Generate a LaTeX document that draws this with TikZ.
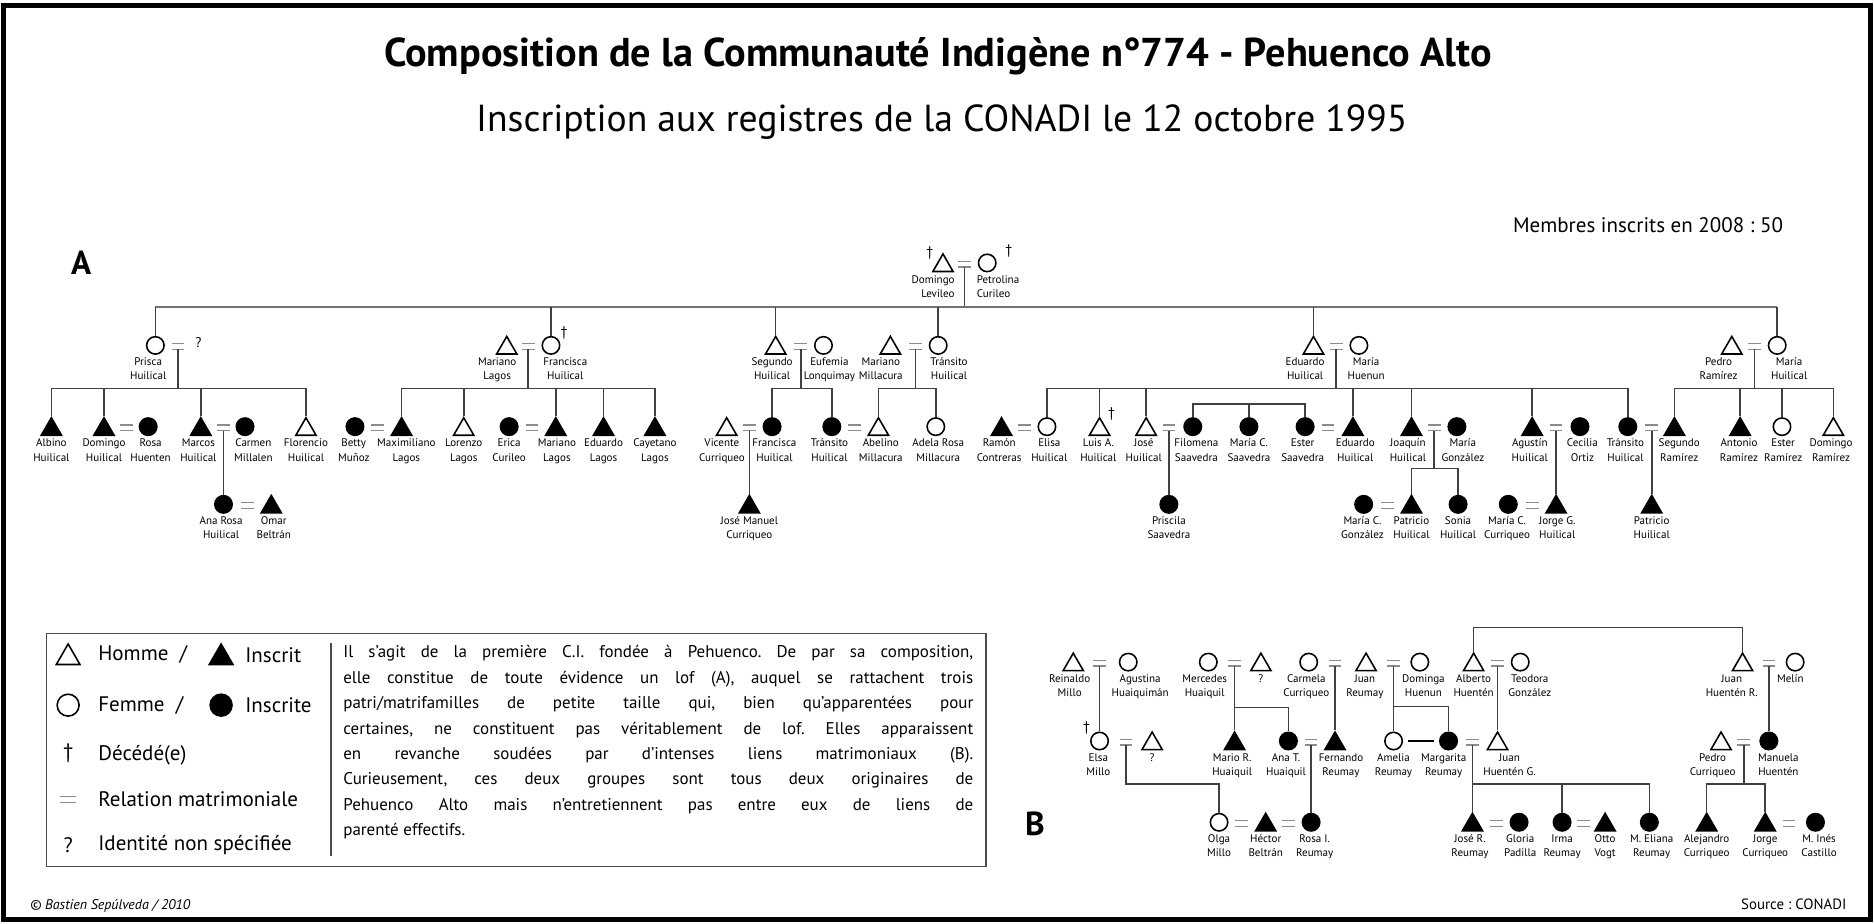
\documentclass[tikz,border=0pt]{standalone}
\usepackage{fontspec}
\setmainfont{PT Sans}
\usetikzlibrary{shapes.geometric}
\frenchspacing

\begin{document}
\begin{tikzpicture}[x=0.24mm, y=-0.24mm,
    man/.style={regular polygon, regular polygon sides=3, draw, line width=0.9pt, minimum size=4.7mm, inner sep=0pt, yshift=-0.55mm},
    woman/.style={circle, draw, line width=0.9pt, minimum size=3.5mm, inner sep=0pt},
    ins/.style={fill=black},
    nm/.style={anchor=north, align=center, inner sep=0pt, font=\fontsize{6.3}{8.2}\selectfont},
    wedline/.style={draw=black!45, line width=0.75pt},
    wed/.style={inner sep=0pt, minimum width=2.4mm, minimum height=1mm,
        append after command={(\tikzlastnode.north west) edge[wedline] (\tikzlastnode.north east)
                              (\tikzlastnode.south west) edge[wedline] (\tikzlastnode.south east)}},
    link/.style={draw=black!75, line width=0.9pt},
    trunk/.style={draw=black!55, line width=1.5pt},
    dag/.style={inner sep=0pt, font=\fontsize{8}{8}\selectfont},
    lg/.style={inner sep=0pt, font=\fontsize{12}{14.5}\selectfont}]

    % 画布与外框
    \useasboundingbox (0,0) rectangle (1568,773);
    \draw[line width=1mm] (3,5) rectangle (1565,769);

    % === 标题 ===
    \node[font=\bfseries\fontsize{23}{26}\selectfont] (titre) at (785,47) {Composition de la Communauté Indigène n°774 - Pehuenco Alto};
    \node[font=\fontsize{21.5}{26}\selectfont] (stitre) at (788,102) {Inscription aux registres de la CONADI le 12 octobre 1995};
    \node[anchor=east, font=\fontsize{12}{13}\selectfont] (membres) at (1497,188) {Membres inscrits en 2008 : 50};
    \node[font=\bfseries\fontsize{19}{20}\selectfont] (labA) at (68,220) {A};

    % === A：始祖夫妇 ===
    \node[man] (dom) at (789,220) {};
    \node[wed] (w0) at (807,221) {};
    \node[woman] (pet) at (826,220) {};
    \node[dag] (domd) at (778,212) {†};
    \node[dag] (petd) at (844,210) {†};
    \node[nm, anchor=north east, align=right] (domn) at (799,230) {Domingo\\Levileo};
    \node[nm, anchor=north west, align=left] (petn) at (817,230) {Petrolina\\Curileo};

    % === 第一代 ===
    \node[woman] (prisc) at (130,289) {};
    \node[wed] (w1) at (149,290) {};
    \node[dag] (w1x) at (166,287) {?};
    \node[nm] (priscn) at (124,299) {Prisca\\Huilical};

    \node[man] (mlag) at (424,289) {};
    \node[wed] (w2) at (442,290) {};
    \node[woman] (fhu) at (461,289) {};
    \node[dag] (fhud) at (472,279) {†};
    \node[nm] (mlagn) at (416,299) {Mariano\\Lagos};
    \node[nm] (fhun) at (473,299) {Francisca\\Huilical};

    \node[man] (shu) at (649,289) {};
    \node[wed] (w3) at (670,290) {};
    \node[woman] (euf) at (689,289) {};
    \node[nm] (shun) at (646,299) {Segundo\\Huilical};
    \node[nm] (eufn) at (694,299) {Eufemia\\Lonquimay};

    \node[man] (mmi) at (745,289) {};
    \node[wed] (w4) at (766,290) {};
    \node[woman] (thu) at (785,289) {};
    \node[nm] (mmin) at (737,299) {Mariano\\Millacura};
    \node[nm] (thun) at (794,299) {Tránsito\\Huilical};

    \node[man] (ehu) at (1099,289) {};
    \node[wed] (w5) at (1118,290) {};
    \node[woman] (mhn) at (1137,289) {};
    \node[nm] (ehun) at (1092,299) {Eduardo\\Huilical};
    \node[nm] (mhnn) at (1143,299) {María\\Huenun};

    \node[man] (pra) at (1449,289) {};
    \node[wed] (w6) at (1468,290) {};
    \node[woman] (mhr) at (1487,289) {};
    \node[nm] (pran) at (1438,299) {Pedro\\Ramírez};
    \node[nm] (mhrn) at (1497,299) {María\\Huilical};

    % 主干横线与下垂线
    \draw[link] (w0.south) -- (w0.south |- 0,257);
    \draw[trunk] (prisc.north |- 0,257) -- (mhr.north |- 0,257);
    \draw[link] (prisc.north) -- (prisc.north |- 0,257) (fhu.north) -- (fhu.north |- 0,257)
        (shu.north) -- (shu.north |- 0,257) (thu.north) -- (thu.north |- 0,257)
        (ehu.north) -- (ehu.north |- 0,257) (mhr.north) -- (mhr.north |- 0,257);

    % === 第二代 ===
    % Prisca 一支
    \node[man, ins] (alb) at (43,357) {};
    \node[nm] (albn) at (43,367) {Albino\\Huilical};
    \node[man, ins] (dhu) at (87,357) {};
    \node[wed] (w7) at (106,358) {};
    \node[woman, ins] (rhu) at (124,357) {};
    \node[nm] (dhun) at (87,367) {Domingo\\Huilical};
    \node[nm] (rhun) at (126,367) {Rosa\\Huenten};
    \node[man, ins] (mar) at (168,357) {};
    \node[wed] (w8) at (187,358) {};
    \node[woman, ins] (cmi) at (205,357) {};
    \node[nm] (marn) at (166,367) {Marcos\\Huilical};
    \node[nm] (cmin) at (212,367) {Carmen\\Millalen};
    \node[man] (flo) at (256,357) {};
    \node[nm] (flon) at (256,367) {Florencio\\Huilical};
    \draw[link] (w1.south) -- (w1.south |- 0,325);
    \draw[link] (alb.north) |- (flo.north |- 0,325) -- (flo.north);
    \draw[link] (dhu.north) -- (dhu.north |- 0,325) (mar.north) -- (mar.north |- 0,325);

    % Francisca 一支
    \node[woman, ins] (bmu) at (297,357) {};
    \node[wed] (w9) at (316,358) {};
    \node[man, ins] (mxl) at (336,357) {};
    \node[nm] (bmun) at (296,367) {Betty\\Muñoz};
    \node[nm] (mxln) at (340,367) {Maximiliano\\Lagos};
    \node[man] (lol) at (388,357) {};
    \node[nm] (loln) at (388,367) {Lorenzo\\Lagos};
    \node[woman, ins] (ecu) at (426,357) {};
    \node[wed] (w10) at (445,358) {};
    \node[man, ins] (mla2) at (465,357) {};
    \node[nm] (ecun) at (426,367) {Erica\\Curileo};
    \node[nm] (mla2n) at (466,367) {Mariano\\Lagos};
    \node[man, ins] (edl) at (505,357) {};
    \node[nm] (edln) at (505,367) {Eduardo\\Lagos};
    \node[man, ins] (cal) at (548,357) {};
    \node[nm] (caln) at (548,367) {Cayetano\\Lagos};
    \draw[link] (w2.south) -- (w2.south |- 0,325);
    \draw[link] (mxl.north) |- (cal.north |- 0,325) -- (cal.north);
    \draw[link] (lol.north) -- (lol.north |- 0,325) (mla2.north) -- (mla2.north |- 0,325)
        (edl.north) -- (edl.north |- 0,325);

    % Segundo 与 Mariano 两支
    \node[man] (vcu) at (608,357) {};
    \node[wed] (w11) at (627,358) {};
    \node[woman, ins] (fhu2) at (646,357) {};
    \node[nm] (vcun) at (604,367) {Vicente\\Curriqueo};
    \node[nm] (fhu2n) at (648,367) {Francisca\\Huilical};
    \node[woman, ins] (thu2) at (696,357) {};
    \node[wed] (w12) at (715,358) {};
    \node[man] (abm) at (735,357) {};
    \node[nm] (thu2n) at (694,367) {Tránsito\\Huilical};
    \node[nm] (abmn) at (737,367) {Abelino\\Millacura};
    \node[woman] (arm) at (783,357) {};
    \node[nm] (armn) at (785,367) {Adela Rosa\\Millacura};
    \draw[link] (w3.south) -- (w3.south |- 0,325);
    \draw[link] (fhu2.north) |- (thu2.north |- 0,325) -- (thu2.north);
    \draw[link] (w4.south) -- (w4.south |- 0,325);
    \draw[link] (abm.north) |- (arm.north |- 0,325) -- (arm.north);

    % Eduardo 一支
    \node[man, ins] (rco) at (838,357) {};
    \node[wed] (w13) at (857,358) {};
    \node[woman] (ehu2) at (876,357) {};
    \node[nm] (rcon) at (836,367) {Ramón\\Contreras};
    \node[nm] (ehu2n) at (878,367) {Elisa\\Huilical};
    \node[man] (lah) at (920,357) {};
    \node[dag] (lahd) at (930,346) {†};
    \node[nm] (lahn) at (919,367) {Luis A.\\Huilical};
    \node[man] (jhu) at (959,357) {};
    \node[wed] (w14) at (978,358) {};
    \node[woman, ins] (fsa) at (998,357) {};
    \node[nm] (jhun) at (957,367) {José\\Huilical};
    \node[nm] (fsan) at (1001,367) {Filomena\\Saavedra};
    \node[woman, ins] (mcs) at (1045,357) {};
    \node[nm] (mcsn) at (1045,367) {María C.\\Saavedra};
    \node[woman, ins] (esa) at (1092,357) {};
    \node[wed] (w15) at (1111,358) {};
    \node[man, ins] (edh) at (1132,357) {};
    \node[nm] (esan) at (1090,367) {Ester\\Saavedra};
    \node[nm] (edhn) at (1134,367) {Eduardo\\Huilical};
    \node[man, ins] (jqh) at (1181,357) {};
    \node[wed] (w16) at (1200,358) {};
    \node[woman, ins] (mgo) at (1219,357) {};
    \node[nm] (jqhn) at (1178,367) {Joaquín\\Huilical};
    \node[nm] (mgon) at (1224,367) {María\\González};
    \node[man, ins] (agh) at (1282,357) {};
    \node[wed] (w17) at (1302,358) {};
    \node[woman, ins] (cor) at (1322,357) {};
    \node[nm] (aghn) at (1280,367) {Agustín\\Huilical};
    \node[nm] (corn) at (1324,367) {Cecilia\\Ortiz};
    \node[woman, ins] (thu3) at (1362,357) {};
    \node[wed] (w18) at (1382,358) {};
    \node[man, ins] (sra) at (1401,357) {};
    \node[nm] (thu3n) at (1360,367) {Tránsito\\Huilical};
    \node[nm] (sran) at (1405,367) {Segundo\\Ramírez};
    \draw[link] (w5.south) -- (w5.south |- 0,325);
    \draw[link] (ehu2.north) |- (thu3.north |- 0,325) -- (thu3.north);
    \draw[link] (lah.north) -- (lah.north |- 0,325) (jhu.north) -- (jhu.north |- 0,325)
        (edh.north) -- (edh.north |- 0,325) (jqh.north) -- (jqh.north |- 0,325)
        (agh.north) -- (agh.north |- 0,325);
    % Saavedra 三姐妹
    \draw[link] (fsa.north) |- (esa.north |- 0,338) -- (esa.north);
    \draw[link] (mcs.north) -- (mcs.north |- 0,338);

    % Pedro 一支
    \node[man, ins] (ara) at (1456,357) {};
    \node[nm] (aran) at (1455,367) {Antonio\\Ramírez};
    \node[woman] (era) at (1491,357) {};
    \node[nm] (eran) at (1492,367) {Ester\\Ramírez};
    \node[man] (dra) at (1534,357) {};
    \node[nm] (dran) at (1532,367) {Domingo\\Ramírez};
    \draw[link] (w6.south) -- (w6.south |- 0,325);
    \draw[link] (sra.north) |- (dra.north |- 0,325) -- (dra.north);
    \draw[link] (ara.north) -- (ara.north |- 0,325) (era.north) -- (era.north |- 0,325);

    % === 第三代 ===
    \node[woman, ins] (arh) at (187,422) {};
    \node[wed] (w19) at (207,423) {};
    \node[man, ins] (obe) at (227,422) {};
    \node[nm] (arhn) at (185,432) {Ana Rosa\\Huilical};
    \node[nm] (oben) at (229,432) {Omar\\Beltrán};
    \draw[link] (w8.south) -- (arh.north);

    \node[man, ins] (jmc) at (627,422) {};
    \node[nm] (jmcn) at (627,432) {José Manuel\\Curriqueo};
    \draw[link] (w11.south) -- (jmc.north);

    \node[woman, ins] (psa) at (978,422) {};
    \node[nm] (psan) at (978,432) {Priscila\\Saavedra};
    \draw[link] (w14.south) -- (psa.north);

    \node[woman, ins] (mcg) at (1141,422) {};
    \node[wed] (w20) at (1161,423) {};
    \node[man, ins] (pah) at (1181,422) {};
    \node[woman, ins] (soh) at (1220,422) {};
    \node[nm] (mcgn) at (1140,432) {María C.\\González};
    \node[nm] (pahn) at (1181,432) {Patricio\\Huilical};
    \node[nm] (sohn) at (1220,432) {Sonia\\Huilical};
    \draw[link] (w16.south) -- (w16.south |- 0,392);
    \draw[link] (pah.north) |- (soh.north |- 0,392) -- (soh.north);

    \node[woman, ins] (mcc) at (1262,422) {};
    \node[wed] (w21) at (1282,423) {};
    \node[man, ins] (jgh) at (1302,422) {};
    \node[nm] (mccn) at (1261,432) {María C.\\Curriqueo};
    \node[nm] (jghn) at (1303,432) {Jorge G.\\Huilical};
    \draw[link] (w17.south) -- (jgh.north);

    \node[man, ins] (pah2) at (1382,422) {};
    \node[nm] (pah2n) at (1382,432) {Patricio\\Huilical};
    \draw[link] (w18.south) -- (pah2.north);

    % === 图例 ===
    \draw[line width=0.8pt, draw=black!70] (39,530) rectangle (825,725);
    \draw[line width=0.8pt, draw=black!70] (277,538) -- (277,716);
    \node[man, minimum size=5.5mm] (lgh) at (57,548) {};
    \node[lg, anchor=west] (lgt1) at (82,548) {Homme \ /};
    \node[man, ins, minimum size=5.5mm] (lgi) at (185,548) {};
    \node[lg, anchor=west] (lgt2) at (205,548) {Inscrit};
    \node[woman, minimum size=4.4mm] (lgf) at (57,590) {};
    \node[lg, anchor=west] (lgt3) at (82,590) {Femme \ /};
    \node[woman, ins, minimum size=4.4mm] (lgfi) at (185,590) {};
    \node[lg, anchor=west] (lgt4) at (205,590) {Inscrite};
    \node[lg] (lgd) at (57,630) {†};
    \node[lg, anchor=west] (lgt5) at (82,632) {Décédé(e)};
    \node[wed, minimum width=3mm] (lgw) at (57,669) {};
    \node[lg, anchor=west] (lgt6) at (82,669) {Relation matrimoniale};
    \node[lg] (lgq) at (57,707) {?};
    \node[lg, anchor=west] (lgt7) at (82,707) {Identité non spécifiée};
    \node[lg, anchor=north west, text width=126.5mm, align=justify, font=\fontsize{9.7}{14.5}\selectfont] (texte) at (287,540) {Il s'agit de la première C.I. fondée à Pehuenco. De par sa composition,\linebreak
        elle constitue de toute évidence un lof (A), auquel se rattachent trois\linebreak
        patri/matrifamilles de petite taille qui, bien qu'apparentées pour\linebreak
        certaines, ne constituent pas véritablement de lof. Elles apparaissent\linebreak
        en revanche soudées par d'intenses liens matrimoniaux (B).\linebreak
        Curieusement, ces deux groupes sont tous deux originaires de\linebreak
        Pehuenco Alto mais n'entretiennent pas entre eux de liens de\linebreak
        parenté effectifs.};

    % === B：联姻群 ===
    \node[font=\bfseries\fontsize{19}{20}\selectfont] (labB) at (866,689) {B};

    % 第一行
    \node[man] (rmi) at (898,554) {};
    \node[wed] (w22) at (920,555) {};
    \node[woman] (ahu) at (944,554) {};
    \node[nm] (rmin) at (895,564) {Reinaldo\\Millo};
    \node[nm] (ahun) at (954,564) {Agustina\\Huaiquimán};
    \node[woman] (mhq) at (1011,554) {};
    \node[wed] (w23) at (1033,555) {};
    \node[man] (unk1) at (1055,554) {};
    \node[nm] (mhqn) at (1008,564) {Mercedes\\Huaiquil};
    \node[nm] (unk1n) at (1055,564) {?};
    \node[woman] (ccu) at (1095,554) {};
    \node[wed] (w24) at (1117,555) {};
    \node[man] (jre) at (1143,554) {};
    \node[wed] (w25) at (1166,555) {};
    \node[woman] (dhn) at (1188,554) {};
    \node[nm] (ccun) at (1093,564) {Carmela\\Curriqueo};
    \node[nm] (jren) at (1142,564) {Juan\\Reumay};
    \node[nm] (dhnn) at (1191,564) {Dominga\\Huenun};
    \node[man] (ahn) at (1233,554) {};
    \node[wed] (w26) at (1253,555) {};
    \node[woman] (tgo) at (1272,554) {};
    \node[nm] (ahnn) at (1233,564) {Alberto\\Huentén};
    \node[nm] (tgon) at (1280,564) {Teodora\\González};
    \node[man] (jhr) at (1458,554) {};
    \node[wed] (w27) at (1480,555) {};
    \node[woman] (mel) at (1502,554) {};
    \node[nm] (jhrn) at (1449,564) {Juan\\Huentén R.};
    \node[nm] (meln) at (1498,564) {Melín};
    \draw[link] (ahn.north) |- (jhr.north |- 0,525) -- (jhr.north);

    % 第二行
    \node[woman] (emi) at (920,620) {};
    \node[dag] (emid) at (909,609) {†};
    \node[wed] (w28) at (942,621) {};
    \node[man] (unk2) at (964,620) {};
    \node[nm] (emin) at (919,630) {Elsa\\Millo};
    \node[nm] (unk2n) at (964,630) {?};
    \node[man, ins] (mrh) at (1033,620) {};
    \node[woman, ins] (ath) at (1078,620) {};
    \node[wed] (w29) at (1097,621) {};
    \node[man, ins] (fre) at (1117,620) {};
    \node[nm] (mrhn) at (1031,630) {Mario R.\\Huaiquil};
    \node[nm] (athn) at (1076,630) {Ana T.\\Huaiquil};
    \node[nm] (fren) at (1122,630) {Fernando\\Reumay};
    \node[woman] (are) at (1166,620) {};
    \node[woman, ins] (mre) at (1212,620) {};
    \node[wed] (w30) at (1232,621) {};
    \node[man] (jhg) at (1253,620) {};
    \node[nm] (aren) at (1166,630) {Amelia\\Reumay};
    \node[nm] (mren) at (1208,630) {Margarita\\Reumay};
    \node[nm] (jhgn) at (1263,630) {Juan\\Huentén G.};
    \node[man] (pcu) at (1440,620) {};
    \node[wed] (w31) at (1459,621) {};
    \node[woman, ins] (mhe) at (1480,620) {};
    \node[nm] (pcun) at (1433,630) {Pedro\\Curriqueo};
    \node[nm] (mhen) at (1488,630) {Manuela\\Huentén};
    \draw[link] (w22.south) -- (emi.north);
    \draw[link] (w23.south) -- (mrh.north);
    \draw[link] (w23.south |- 0,592) -| (ath.north);
    \draw[link] (w24.south) -- (fre.north);
    \draw[link] (w25.south) -- (are.north);
    \draw[link] (w25.south |- 0,591) -| (mre.north);
    \draw[draw=black, line width=1pt] ([xshift=1mm]are.east) -- ([xshift=-1mm]mre.west);
    \draw[link] (w26.south) -- (jhg.north);
    \draw[link] (w27.south) -- (mhe.north);

    % 第三行
    \node[woman] (omi) at (1020,688) {};
    \node[wed] (w32) at (1039,689) {};
    \node[man, ins] (hbe) at (1059,688) {};
    \node[wed] (w33) at (1078,689) {};
    \node[woman, ins] (rre) at (1097,688) {};
    \node[nm] (omin) at (1020,698) {Olga\\Millo};
    \node[nm] (hben) at (1059,698) {Héctor\\Beltrán};
    \node[nm] (rren) at (1100,698) {Rosa I.\\Reumay};
    \node[man, ins] (jrr) at (1232,688) {};
    \node[wed] (w34) at (1252,689) {};
    \node[woman, ins] (gpa) at (1271,688) {};
    \node[woman, ins] (ire) at (1307,688) {};
    \node[wed] (w35) at (1325,689) {};
    \node[man, ins] (ovo) at (1343,688) {};
    \node[woman, ins] (mer) at (1380,688) {};
    \node[nm] (jrrn) at (1230,698) {José R.\\Reumay};
    \node[nm] (gpan) at (1272,698) {Gloria\\Padilla};
    \node[nm] (iren) at (1307,698) {Irma\\Reumay};
    \node[nm] (ovon) at (1343,698) {Otto\\Vogt};
    \node[nm] (mern) at (1382,698) {M. Eliana\\Reumay};
    \node[man, ins] (acu) at (1428,688) {};
    \node[man, ins] (jcu) at (1477,688) {};
    \node[wed] (w36) at (1497,689) {};
    \node[woman, ins] (mic) at (1519,688) {};
    \node[nm] (acun) at (1428,698) {Alejandro\\Curriqueo};
    \node[nm] (jcun) at (1477,698) {Jorge\\Curriqueo};
    \node[nm] (micn) at (1522,698) {M. Inés\\Castillo};
    \draw[link] (w28.south) |- (omi.north |- 0,656) -- (omi.north);
    \draw[link] (w29.south) -- (rre.north);
    \draw[link] (w30.south) -- (jrr.north);
    \draw[link] (w30.south |- 0,656) -| (mer.north);
    \draw[link] (ire.north) -- (ire.north |- 0,656);
    \draw[link] (w31.south) -- (w31.south |- 0,656);
    \draw[link] (acu.north) |- (jcu.north |- 0,656) -- (jcu.north);

    % 页脚
    \node[anchor=west, font=\itshape\fontsize{8}{9}\selectfont] (copy) at (20,758) {© Bastien Sepúlveda / 2010};
    \node[anchor=east, font=\fontsize{8.5}{9}\selectfont] (src) at (1550,757) {Source : CONADI};
\end{tikzpicture}
\end{document}
